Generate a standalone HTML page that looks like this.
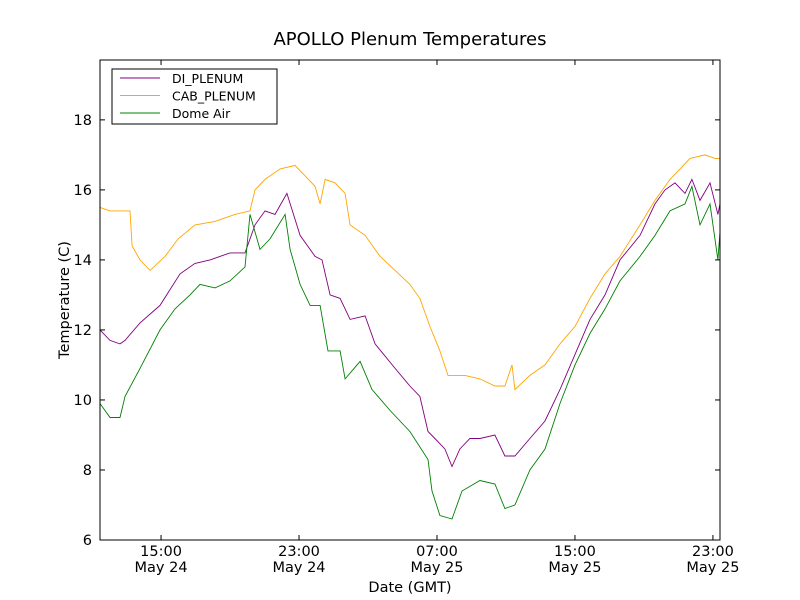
<!DOCTYPE html>
<html><head><meta charset="utf-8"><style>
html,body{margin:0;padding:0;background:#fff}
svg{display:block;font-family:"DejaVu Sans","Liberation Sans",sans-serif}
</style></head><body>
<svg id="chart" width="800" height="600">
<rect width="800" height="600" fill="#fff"/>
<text x="410" y="45" text-anchor="middle" font-size="18">APOLLO Plenum Temperatures</text>
<g id="plot"></g>
<text x="410" y="592" text-anchor="middle" font-size="14.5">Date (GMT)</text>
<text transform="translate(69,300) rotate(-90)" text-anchor="middle" font-size="14.5">Temperature (C)</text>
</svg>
<script>
const diTimes=[11.46,12.04,12.62,12.91,13.78,14.94,16.10,16.97,17.84,19.0,19.87,20.45,21.03,21.61,22.30,23.06,23.93,24.33,24.80,25.38,25.96,26.83,27.41,28.57,29.43,30.01,30.48,30.88,31.46,31.87,32.33,32.91,33.49,34.36,34.94,35.52,36.39,37.26,38.13,39.0,39.87,40.74,41.61,42.77,43.64,44.22,44.80,45.38,45.78,46.25,46.83,47.29,47.41];
const diValues=[12.0,11.7,11.6,11.7,12.2,12.7,13.6,13.9,14.0,14.2,14.2,15.0,15.4,15.3,15.9,14.7,14.1,14.0,13.0,12.9,12.3,12.4,11.6,10.9,10.4,10.1,9.1,8.9,8.6,8.1,8.6,8.9,8.9,9.0,8.4,8.4,8.9,9.4,10.3,11.3,12.3,13.0,14.0,14.7,15.6,16.0,16.2,15.9,16.3,15.7,16.2,15.3,15.6];
const cabTimes=[11.46,12.04,12.91,13.20,13.32,13.78,14.36,15.23,15.99,16.97,18.13,19.29,20.16,20.45,21.03,21.90,22.77,23.35,23.93,24.22,24.51,25.09,25.67,25.96,26.83,27.70,28.57,29.43,30.01,30.59,31.17,31.64,32.62,33.49,34.36,34.94,35.35,35.52,36.39,37.26,38.13,39.0,39.87,40.74,41.61,42.77,43.64,44.51,45.67,46.54,47.12,47.41];
const cabValues=[15.5,15.4,15.4,15.4,14.4,14.0,13.7,14.1,14.6,15.0,15.1,15.3,15.4,16.0,16.3,16.6,16.7,16.4,16.1,15.6,16.3,16.2,15.9,15.0,14.7,14.1,13.7,13.3,12.9,12.1,11.4,10.7,10.7,10.6,10.4,10.4,11.0,10.3,10.7,11.0,11.6,12.1,12.9,13.6,14.1,15.0,15.7,16.3,16.9,17.0,16.9,16.9];
const domeTimes=[11.46,12.04,12.62,12.91,13.78,14.94,15.81,16.68,17.26,18.13,19.0,19.87,20.16,20.74,21.32,22.19,22.48,23.06,23.64,24.22,24.68,25.38,25.67,26.54,27.23,28.28,29.43,30.48,30.71,31.17,31.87,32.45,33.49,34.36,34.94,35.52,36.39,37.26,38.13,39.0,39.87,40.74,41.61,42.77,43.64,44.51,45.38,45.78,46.25,46.83,47.29,47.41];
const domeValues=[9.9,9.5,9.5,10.1,10.9,12.0,12.6,13.0,13.3,13.2,13.4,13.8,15.3,14.3,14.6,15.3,14.3,13.3,12.7,12.7,11.4,11.4,10.6,11.1,10.3,9.7,9.1,8.3,7.4,6.7,6.6,7.4,7.7,7.6,6.9,7.0,8.0,8.6,9.9,11.0,11.9,12.6,13.4,14.1,14.7,15.4,15.6,16.1,15.0,15.6,14.0,14.8];
const yTicks=[6,8,10,12,14,16,18];
const xTickHours=[15,23,31,39,47];
const xTickTimes=["15:00","23:00","07:00","15:00","23:00"];
const xTickDates=["May 24","May 24","May 25","May 25","May 25"];

const L=100,R=720,T=60,B=540,xMin=11.46,xMax=47.41,yMin=6,yMax=19.71;
const xs=h=>L+(h-xMin)/(xMax-xMin)*(R-L);
const ys=v=>B-(v-yMin)/(yMax-yMin)*(B-T);
const NS="http://www.w3.org/2000/svg";
const plot=document.getElementById('plot');
function mk(tag,attrs,parent){const e=document.createElementNS(NS,tag);for(const k in attrs)e.setAttribute(k,attrs[k]);(parent||plot).appendChild(e);return e;}

function series(t,v,color,name){
  const d=t.map((h,i)=>(i?'L':'M')+xs(h).toFixed(1)+','+ys(v[i]).toFixed(1)).join('');
  const p=mk('path',{d:d,fill:'none',stroke:color,'stroke-width':0.9});
  
  
}
series(diTimes,diValues,'#800080','di-plenum-line');
series(cabTimes,cabValues,'#ffa500','cab-plenum-line');
series(domeTimes,domeValues,'#008000','dome-air-line');

const frame=mk('rect',{x:L,y:T,width:R-L,height:B-T,fill:'none',stroke:'#000','stroke-width':1});



yTicks.forEach(v=>{
  const y=ys(v);
  mk('line',{x1:L,x2:L+5,y1:y,y2:y,stroke:'#000'});
  mk('line',{x1:R,x2:R-5,y1:y,y2:y,stroke:'#000'});
  const t=mk('text',{x:L-8,y:y+5,'text-anchor':'end','font-size':14.5});
  t.textContent=v;
  
  
});
xTickHours.forEach((h,i)=>{
  const x=xs(h);
  mk('line',{x1:x,x2:x,y1:B,y2:B-5,stroke:'#000'});
  mk('line',{x1:x,x2:x,y1:T,y2:T+5,stroke:'#000'});
  const t=mk('text',{x:x,y:556,'text-anchor':'middle','font-size':14.5});
  t.textContent=xTickTimes[i];
  
  
  const d=mk('text',{x:x,y:572,'text-anchor':'middle','font-size':14.5});
  d.textContent=xTickDates[i];
  
  
});

const leg=mk('g',{});


mk('rect',{x:112,y:69,width:165,height:55,fill:'#fff',stroke:'#000'},leg);
[['DI_PLENUM','#800080'],['CAB_PLENUM','#ffa500'],['Dome Air','#008000']].forEach((e,i)=>{
  const y=78+i*17.5;
  const g=mk('g',{},leg);
  
  
  mk('line',{x1:120,x2:160,y1:y,y2:y,stroke:e[1],'stroke-width':1},g);
  const t=mk('text',{x:172,y:y+5,'font-size':12.5},g);
  t.textContent=e[0];
});
</script>
</body></html>
